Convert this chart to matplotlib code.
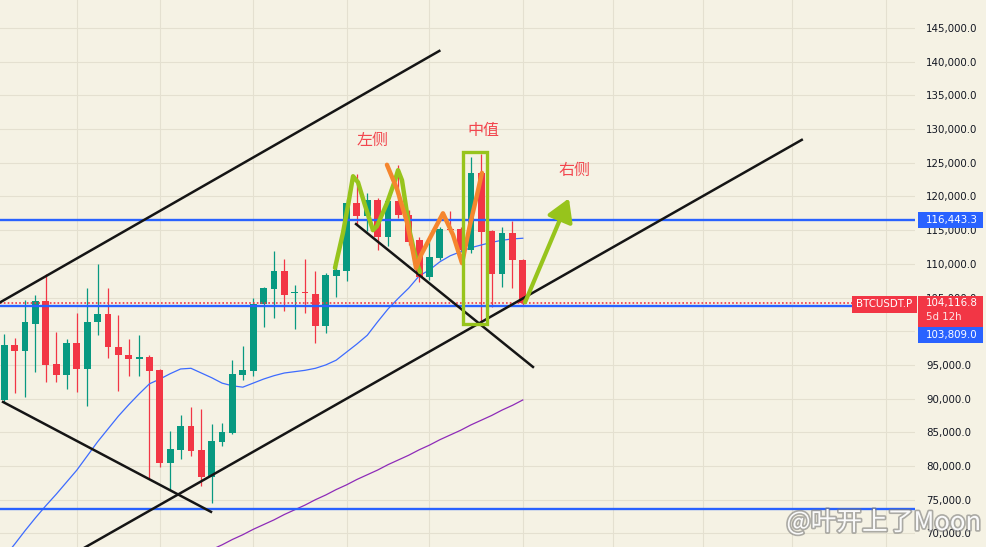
import matplotlib
matplotlib.use("Agg")
import matplotlib.pyplot as plt
import matplotlib.patheffects as pe
from matplotlib.patches import Rectangle, FancyArrowPatch
from matplotlib import transforms
import numpy as np

# weekly candles BTCUSDT.P
opens = [89800, 98000, 97100, 101100, 104500, 95100, 93500, 98200, 94400, 101300,
         102600, 97600, 96400, 95900, 96200, 94200, 80500, 82400, 86000, 82400,
         78300, 83600, 84900, 93500, 94100, 104000, 106300, 108900, 105600, 105700,
         105500, 100800, 108200, 109000, 119100, 117100, 119500, 114000, 119300, 117300,
         113500, 108100, 110800, 115200, 115200, 112100, 123500, 114900, 108500, 114600,
         110600]
highs = [99600, 99000, 104600, 105400, 108500, 99900, 98900, 102700, 106400, 110000,
         106400, 102400, 98800, 99400, 96500, 94400, 85200, 87500, 88800, 88500,
         86200, 86400, 95700, 97800, 104900, 106600, 111900, 110700, 106800, 110700,
         108900, 108600, 110800, 119600, 123300, 120500, 119700, 119500, 124600, 118000,
         114000, 113400, 115500, 117800, 115500, 125900, 126300, 115000, 115400, 116400,
         110700]
lows = [89500, 90800, 90300, 94000, 92400, 92500, 91500, 91000, 88900, 99400,
        96100, 91200, 93400, 93400, 78200, 79900, 76400, 81000, 81500, 77100,
        74500, 83000, 84800, 92700, 93400, 100700, 102000, 103000, 100400, 102700,
        98300, 99700, 105100, 107500, 115900, 114900, 112000, 112700, 116800, 112800,
        107300, 107600, 110500, 114700, 111800, 111600, 101400, 103600, 106500, 106400,
        103700]
closes = [98000, 97100, 101300, 104500, 95000, 93500, 98200, 94400, 101400, 102600,
          97600, 96400, 95900, 96100, 94100, 80500, 82500, 86000, 82200, 78300,
          83700, 85100, 93700, 94200, 104000, 106400, 108900, 105400, 105700, 105600,
          100800, 108300, 109100, 119000, 117100, 119500, 114000, 119300, 117200, 113300,
          108100, 111000, 115200, 115000, 112100, 123500, 114800, 108500, 114600, 110500,
          104116.8]

# moving averages
ma_blue = [66500, 68400, 70400, 72300, 74100, 75800, 77600, 79400, 81500, 83600,
           85500, 87400, 89100, 90700, 92200, 92900, 93700, 94400, 94500, 93800,
           93100, 92300, 91900, 91700, 92300, 92900, 93400, 93800, 94000, 94200,
           94500, 95000, 95700, 96900, 98100, 99400, 101400, 103300, 104900, 106400,
           108200, 109100, 110300, 111200, 111800, 112400, 112800, 113200, 113500, 113700,
           113800]
ma_purple = [np.nan] * 20 + [67600, 68300, 69100, 69800, 70600, 71300, 72000, 72800, 73500, 74200,
                             75000, 75700, 76500, 77200, 78000, 78700, 79400, 80200, 80900, 81600,
                             82400, 83100, 83900, 84600, 85300, 86100, 86800, 87500, 88300, 89000,
                             89800]

# horizontal levels
level_top = 116443.3
level_mid = 103809.0
level_low = 73600
price_now = 104116.8

# drawings (candle index, price)
channel_up = [(-0.5, 104200), (41.95, 141600)]
channel_low = [(7.3, 67500), (76.9, 128400)]
down_left = [(-0.12, 89500), (19.93, 73200)]
down_right = [(33.92, 115900), (50.98, 94700)]
green_path_x = [31.89, 32.66, 33.24, 33.63, 34.11, 34.78, 35.55, 35.94, 36.90, 37.68, 37.97, 38.35, 39.12, 39.80, 40.09]
green_path_y = [109400, 114600, 119500, 123000, 122100, 118700, 115000, 115600, 119000, 122400, 123900, 122400, 114600, 110100, 108800]
orange_path_x = [36.90, 37.87, 38.83, 39.41, 39.70, 40.18, 41.34, 42.30, 43.27, 44.14, 44.91, 45.58, 46.06]
orange_path_y = [124700, 121100, 116200, 111800, 109400, 111300, 114700, 117500, 114300, 110100, 115800, 120200, 123500]
box_x = [44.28, 46.59]
box_y = [101100, 126600]
arrow_from = (50.11, 103900)
arrow_to = (54.55, 120100)

notes = [("左侧", 35.55, 128300), ("中值", 46.21, 129800), ("右侧", 54.94, 123900)]
month_grid = [7, 15, 24, 33, 41, 50, 58.7, 67.4, 76, 85]

BG = '#F5F2E4'
GRID = '#E4E0D0'
UP = '#089981'
DOWN = '#F23645'
BLUE = '#2962FF'
LIME = '#97C41C'
ORANGE = '#F5862E'
CJK = ['Noto Sans CJK SC', 'DejaVu Sans']

fig = plt.figure(figsize=(9.86, 5.47), dpi=100)
fig.patch.set_facecolor(BG)
ax = fig.add_axes([0, 0, 915 / 986, 1])
ax.set_facecolor(BG)
ax.set_xlim(-0.415, 87.82)
ax.set_ylim(67980, 149155)
for s in ax.spines.values():
    s.set_visible(False)

ax.set_xticks(month_grid)
ax.set_yticks(np.arange(70000, 145001, 5000))
ax.set_yticklabels(['{:,.1f}'.format(v) for v in np.arange(70000, 145001, 5000)],
                   fontsize=7.4, color='#131722')
ax.yaxis.tick_right()
ax.tick_params(axis='x', length=0, labelbottom=False)
ax.tick_params(axis='y', length=0, pad=8)
ax.grid(True, color=GRID, lw=0.8, zorder=0)
ax.set_axisbelow(True)

# candles
for i in range(len(opens)):
    o, h, l, c = opens[i], highs[i], lows[i], closes[i]
    col = UP if c >= o else DOWN
    ax.vlines(i, l, h, color=col, lw=0.9, zorder=3)
    ax.bar(i, max(abs(c - o), 220), bottom=min(o, c), width=0.66, color=col, lw=0, zorder=4)

idx = np.arange(len(opens))
ax.plot(idx, ma_blue, color='#3D6BFF', lw=0.9, zorder=3.5)
ax.plot(idx, ma_purple, color='#8E2BB8', lw=0.9, zorder=3.5)

# levels
for lv in [level_top, level_mid, level_low]:
    ax.axhline(lv, color=BLUE, lw=1.7, zorder=5)
ax.axhline(price_now, color=DOWN, lw=1.2, ls=(0, (1, 1.3)), zorder=5)

# trend lines
for seg in [channel_up, channel_low, down_left, down_right]:
    ax.plot([seg[0][0], seg[1][0]], [seg[0][1], seg[1][1]], color='#151515', lw=1.8, zorder=6)

ax.plot(green_path_x, green_path_y, color=LIME, lw=3.2, zorder=7,
        solid_capstyle='round', solid_joinstyle='round')
ax.plot(orange_path_x, orange_path_y, color=ORANGE, lw=3.2, zorder=7,
        solid_capstyle='round', solid_joinstyle='round')
ax.add_patch(Rectangle((box_x[0], box_y[0]), box_x[1] - box_x[0], box_y[1] - box_y[0],
                       fill=False, ec=LIME, lw=2.4, zorder=7))
ax.add_patch(FancyArrowPatch(arrow_from, arrow_to,
                             arrowstyle='-|>,head_length=0.75,head_width=0.45',
                             mutation_scale=18, lw=3, color=LIME, zorder=7))

for t, x, y in notes:
    ax.text(x, y, t, fontsize=11.5, color='#F2464E', family=CJK,
            ha='center', va='center', zorder=8)

# price-scale labels
ppx = (149155 - 67980) / 547.0
trans = transforms.blended_transform_factory(ax.transAxes, ax.transData)
x0 = 918 / 915.0
bw = 65 / 915.0
tx = 926 / 915.0

def box(xa, ytop, w, hpx, col):
    ax.add_patch(Rectangle((xa, ytop - hpx * ppx), w, hpx * ppx, transform=trans,
                           facecolor=col, edgecolor='none', clip_on=False, zorder=10))

box(x0, level_top + 8 * ppx, bw, 16, BLUE)
ax.text(tx, level_top, '{:,.1f}'.format(level_top), transform=trans, color='white',
        fontsize=7.4, ha='left', va='center', zorder=11, clip_on=False)

red_top = price_now + 7.6 * ppx
box(x0, red_top, bw, 30.7, DOWN)
ax.text(tx, price_now, '{:,.1f}'.format(price_now), transform=trans, color='white',
        fontsize=7.4, ha='left', va='center', zorder=11, clip_on=False)
ax.text(tx, price_now - 13.5 * ppx, '5d 12h', transform=trans, color='#FDE3E5',
        fontsize=7.4, ha='left', va='center', zorder=11, clip_on=False)

mid_top = red_top - 30.7 * ppx
box(x0, mid_top, bw, 16, BLUE)
ax.text(tx, mid_top - 8 * ppx, '{:,.1f}'.format(level_mid), transform=trans, color='white',
        fontsize=7.4, ha='left', va='center', zorder=11, clip_on=False)

box(851.7 / 915.0, red_top, 65 / 915.0, 16.7, DOWN)
ax.text(884 / 915.0, red_top - 8.35 * ppx, 'BTCUSDT.P', transform=trans, color='white',
        fontsize=7.4, ha='center', va='center', zorder=11, clip_on=False)

fig.text(884 / 986, 1 - 523 / 547, '@叶开上了Moon', fontsize=18.5, family=CJK,
         color='white', ha='center', va='center', alpha=0.95,
         path_effects=[pe.withStroke(linewidth=2.4, foreground='#7a7a7a', alpha=0.6)])

fig.savefig('out.png', dpi=100, facecolor=BG)
